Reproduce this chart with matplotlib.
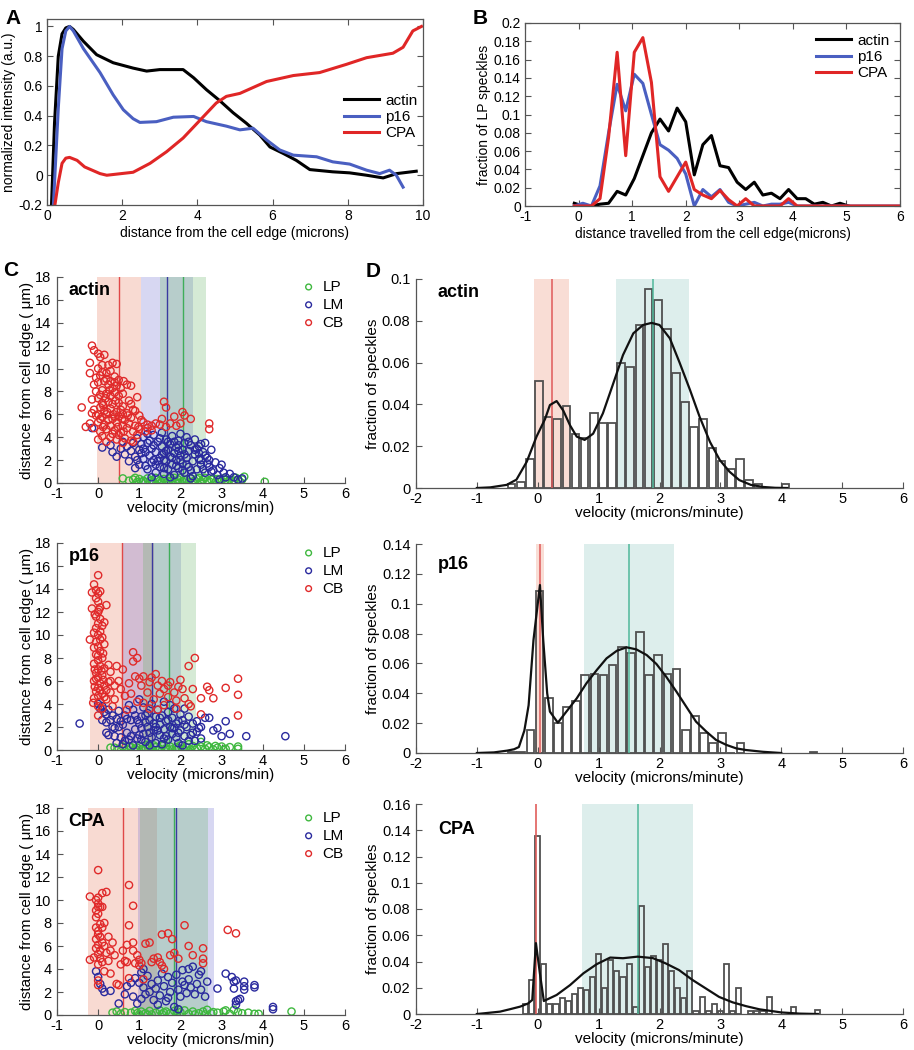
import numpy as np
import matplotlib
matplotlib.use("Agg")
import matplotlib.pyplot as plt
from matplotlib.ticker import FuncFormatter

plt.rcParams['font.family'] = ['Liberation Sans', 'DejaVu Sans']
plt.rcParams['font.size'] = 10

# ---------------- Panel A data ----------------
A_actin_x = [0.12, 0.2, 0.3, 0.4, 0.5, 0.6, 0.7, 0.97, 1.32, 1.76, 2.29, 2.65, 3.0, 3.62, 3.9, 4.24, 4.6, 4.95, 5.3, 5.66, 5.93, 6.28, 6.63, 6.99, 7.6, 8.05, 8.5, 8.94, 9.3, 9.82]
A_actin_y = [-0.2, 0.35, 0.8, 0.95, 0.99, 1.0, 0.98, 0.9, 0.81, 0.756, 0.72, 0.70, 0.71, 0.71, 0.655, 0.575, 0.50, 0.42, 0.35, 0.27, 0.19, 0.147, 0.10, 0.038, 0.023, 0.016, 0.0, -0.018, 0.011, 0.027]
A_p16_x = [0.17, 0.3, 0.4, 0.5, 0.6, 0.7, 0.97, 1.41, 1.76, 2.03, 2.29, 2.47, 2.91, 3.36, 3.9, 4.24, 4.77, 5.13, 5.48, 5.84, 6.19, 6.55, 7.17, 7.6, 8.05, 8.5, 8.85, 9.11, 9.29, 9.47]
A_p16_y = [-0.2, 0.45, 0.85, 0.97, 1.0, 0.97, 0.85, 0.69, 0.54, 0.44, 0.38, 0.355, 0.36, 0.39, 0.395, 0.36, 0.33, 0.305, 0.316, 0.237, 0.17, 0.135, 0.124, 0.09, 0.075, 0.034, 0.011, 0.034, 0.0, -0.08]
A_cpa_x = [0.21, 0.3, 0.4, 0.5, 0.6, 0.8, 1.0, 1.41, 1.59, 2.29, 2.74, 3.18, 3.62, 4.07, 4.5, 4.77, 5.13, 5.84, 6.55, 7.25, 7.96, 8.5, 9.2, 9.47, 9.73, 9.96]
A_cpa_y = [-0.2, -0.05, 0.08, 0.115, 0.12, 0.10, 0.056, 0.011, 0.0, 0.02, 0.08, 0.158, 0.25, 0.37, 0.485, 0.53, 0.55, 0.63, 0.67, 0.69, 0.745, 0.79, 0.82, 0.86, 0.97, 1.0]

# ---------------- Panel B data ----------------
B_x = [-0.08, 0.08, 0.24, 0.40, 0.56, 0.72, 0.88, 1.04, 1.20, 1.36, 1.52, 1.68, 1.84, 2.00, 2.16, 2.32, 2.48,
       2.64, 2.80, 2.96, 3.12, 3.28, 3.44, 3.60, 3.76, 3.92, 4.08, 4.24, 4.40, 4.56, 4.72, 4.88, 5.04, 5.20,
       5.36, 5.52, 5.68, 5.84, 6.00]
B_actin = [0.003, 0.0, 0.0, 0.002, 0.003, 0.016, 0.012, 0.03, 0.055, 0.08, 0.095, 0.082, 0.107, 0.092, 0.034,
           0.067, 0.077, 0.044, 0.042, 0.026, 0.018, 0.026, 0.012, 0.014, 0.008, 0.018, 0.008, 0.008, 0.002,
           0.004, 0.0, 0.003, 0.0]
B_p16 = [0.0, 0.003, 0.0, 0.022, 0.08, 0.133, 0.104, 0.144, 0.134, 0.1, 0.067, 0.061, 0.052, 0.035, 0.0, 0.018,
         0.01, 0.018, 0.004, 0.0, 0.002, 0.004, 0.0, 0.002, 0.002, 0.004, 0.0, 0.0, 0.0, 0.0, 0.0, 0.0, 0.0, 0.0,
         0.0, 0.0, 0.0, 0.0, 0.0]
B_cpa = [0.0, 0.0, 0.0, 0.008, 0.075, 0.168, 0.055, 0.168, 0.184, 0.135, 0.032, 0.016, 0.032, 0.048, 0.018, 0.012,
         0.008, 0.017, 0.007, 0.0, 0.008, 0.0, 0.0, 0.0, 0.0, 0.008, 0.0, 0.0, 0.0, 0.0, 0.0, 0.0, 0.0, 0.0, 0.0,
         0.0, 0.0, 0.0, 0.0]

# ---------------- Panel C data (velocity, distance) ----------------
actin_CB = [(-0.15,12.0),(-0.1,11.6),(0.0,11.3),(0.05,11.0),(0.15,11.2),(-0.2,10.5),(0.0,10.0),(0.1,10.3),(0.25,10.3),
    (0.35,10.5),(0.45,10.4),(-0.2,9.6),(-0.05,9.2),(0.05,9.4),(0.2,9.6),(0.3,9.8),(0.4,9.3),(0.5,9.0),(0.15,8.9),
    (-0.1,8.6),(0.0,8.8),(0.25,8.6),(0.35,8.3),(0.45,8.5),(0.55,8.3),(0.7,8.6),(0.8,8.5),(0.1,8.1),(-0.05,8.0),
    (0.2,7.8),(0.3,7.6),(0.4,7.9),(0.5,7.6),(0.6,7.8),(0.75,7.2),(0.95,7.5),(-0.15,7.3),(0.0,7.4),(0.1,7.0),
    (0.25,7.1),(0.35,6.9),(0.5,7.0),(0.6,6.7),(0.8,6.9),(-0.4,6.6),(-0.1,6.4),(0.05,6.6),(0.15,6.3),(0.3,6.5),
    (0.45,6.2),(0.55,6.4),(0.7,6.1),(0.9,6.3),(-0.05,5.9),(0.1,5.8),(0.2,6.0),(0.35,5.6),(0.5,5.8),(0.65,5.5),
    (0.8,5.7),(1.0,5.9),(-0.2,5.2),(0.0,5.3),(0.15,5.1),(0.3,5.0),(0.45,5.3),(0.6,5.0),(0.75,5.2),(0.9,5.0),
    (1.1,5.3),(1.2,5.1),(1.3,5.0),(1.4,5.2),(1.5,5.1),(-0.3,4.9),(-0.1,4.8),(0.05,4.5),(0.2,4.7),(0.4,4.6),
    (0.55,4.4),(0.7,4.8),(0.85,4.5),(1.0,4.7),(1.15,4.5),(1.3,4.6),(0.0,3.8),(0.1,4.1),(0.3,4.0),(0.5,4.2),
    (0.65,3.9),(0.8,3.7),(0.95,4.2),(0.6,3.5),(0.85,3.6),(1.6,7.1),(1.65,6.6),(1.55,5.6),(1.75,5.2),(1.85,5.8),
    (2.05,6.2),(2.1,5.9),(2.25,5.6),(2.0,5.2),(2.7,5.2),(2.7,4.7),(1.9,5.0),(1.65,4.9),
    (0.05,7.7),(0.18,7.4),(0.28,8.1),(0.42,7.2),(0.12,6.8),(0.22,6.2),(0.38,6.0),(0.6,6.0),(0.05,5.6),(0.25,5.5),
    (0.4,5.8),(0.58,5.6),(0.72,5.9),(0.12,4.9),(0.35,4.3),(0.48,4.9),(0.62,4.5),(0.2,9.1),(0.3,8.9),(0.4,8.8),
    (0.1,9.7),(0.62,8.9),(0.0,6.0),(-0.15,6.1),(0.85,6.4),(1.05,5.5),(1.2,4.8),(0.45,3.8),(0.2,3.6),(0.98,4.9)]
actin_LM = [(-0.15,4.8),(0.1,3.1),(0.3,3.3),(0.35,2.7),(0.45,2.3),(0.55,3.0),(0.6,3.6),(0.65,2.5),(0.7,3.2),(0.75,1.9),
    (0.8,2.8),(0.85,3.5),(0.9,2.3),(0.95,3.9),(1.0,2.9),(1.0,1.6),(1.05,3.4),(1.1,2.1),(1.1,4.0),(1.15,2.7),(1.2,1.2),
    (1.2,3.5),(1.25,2.4),(1.3,3.0),(1.3,1.8),(1.35,4.2),(1.4,2.7),(1.4,0.9),(1.45,3.6),(1.5,2.2),(1.5,1.4),(1.55,3.2),
    (1.55,4.4),(1.6,2.6),(1.6,0.8),(1.65,1.9),(1.65,3.8),(1.7,2.9),(1.7,1.2),(1.75,2.3),(1.75,3.4),(1.8,1.6),(1.8,4.1),
    (1.85,2.6),(1.85,0.7),(1.9,3.1),(1.9,2.0),(1.95,1.3),(1.95,3.7),(2.0,2.4),(2.0,4.3),(2.05,1.7),(2.05,2.9),(2.1,0.9),
    (2.1,3.5),(2.15,2.2),(2.15,4.0),(2.2,1.4),(2.2,2.8),(2.25,3.3),(2.3,1.9),(2.3,0.6),(2.35,2.5),(2.35,3.8),(2.4,1.2),
    (2.4,3.0),(2.45,2.1),(2.5,1.6),(2.5,3.4),(2.55,2.7),(2.6,0.9),(2.6,3.5),(2.65,2.2),(2.7,1.4),(2.7,2.0),(2.75,2.9),
    (2.8,1.1),(2.85,1.8),(2.9,0.7),(2.95,1.3),(3.0,1.6),(3.05,0.9),(3.1,0.5),(3.2,0.8),(3.3,0.5),(3.4,0.3),(3.5,0.4),
    (1.2,4.3),(0.9,1.3),(1.45,1.9),(1.75,0.5),(2.25,0.4),(1.3,0.5),(2.95,0.3),(1.05,2.6),(1.35,3.3),(1.6,2.0),
    (1.95,2.8),(2.15,1.6),(2.45,2.6),(1.85,3.6),(2.6,2.4),
    (1.1,3.0),(1.25,3.7),(1.4,1.6),(1.55,2.5),(1.7,3.6),(1.8,2.2),(1.9,1.5),(2.0,2.0),(2.1,2.5),(2.25,1.1),
    (2.35,2.9),(2.5,2.0),(2.65,1.7),(1.5,3.9),(1.65,2.8),(1.95,3.3),(2.2,3.6),(2.45,3.2),(0.95,2.0),(1.15,1.5),
    (1.35,2.0),(2.75,1.0),(2.55,1.2),(2.05,1.1),(1.6,1.3)]
actin_LP = [(0.6,0.4),(0.75,0.2),(0.85,0.3),(0.95,0.1),(1.0,0.35),(1.1,0.2),(1.15,0.05),(1.2,0.4),(1.3,0.25),(1.35,0.1),
    (1.4,0.45),(1.5,0.2),(1.55,0.05),(1.6,0.35),(1.7,0.15),(1.75,0.4),(1.8,0.25),(1.9,0.05),(1.95,0.3),(2.0,0.45),
    (2.05,0.15),(2.15,0.3),(2.2,0.05),(2.25,0.4),(2.35,0.2),(2.4,0.35),(2.5,0.1),(2.55,0.3),(2.6,0.45),(2.7,0.15),
    (2.75,0.3),(2.85,0.05),(2.9,0.35),(3.0,0.2),(3.05,0.4),(3.15,0.1),(3.2,0.3),(3.3,0.2),(3.35,0.45),(3.45,0.1),
    (3.5,0.3),(3.55,0.55),(4.05,0.1),(1.25,0.15),(1.45,0.3),(1.65,0.05),(1.85,0.45),(2.1,0.25),(2.3,0.1),(2.45,0.45),
    (2.65,0.2),(2.8,0.4),(2.95,0.1),(3.1,0.25),(3.25,0.05),(1.05,0.05),(0.9,0.45),(3.4,0.3)]

p16_CB = [(0.0,15.2),(-0.1,14.4),(-0.05,13.9),(0.0,13.6),(-0.15,13.7),(0.05,13.8),(-0.05,13.2),(0.0,12.9),(-0.15,12.3),
    (0.05,12.4),(0.0,12.0),(0.2,12.6),(-0.05,11.6),(0.05,11.4),(0.15,11.1),(0.0,11.0),(-0.05,10.6),(0.05,10.3),(0.0,10.0),
    (-0.2,9.6),(0.1,9.8),(0.15,9.2),(-0.05,9.4),(0.0,9.0),(0.05,8.6),(-0.05,8.3),(0.1,8.0),(0.0,7.8),(-0.1,7.5),(0.05,7.3),
    (0.15,7.1),(0.0,7.0),(-0.05,6.7),(0.1,6.5),(0.0,6.3),(-0.1,6.0),(0.05,5.8),(0.15,5.6),(0.0,5.4),(-0.05,5.1),(0.1,4.9),
    (0.0,4.7),(-0.1,4.5),(0.05,4.2),(0.0,3.8),(0.0,3.0),(0.25,7.4),(0.3,6.8),(0.25,5.9),(0.3,5.0),(0.2,4.4),
    (0.45,7.3),(0.6,7.0),(0.5,6.0),(0.55,5.3),(0.4,4.4),(0.65,4.7),(0.75,5.8),(0.85,8.5),(0.95,8.0),(0.85,7.7),(0.9,6.4),
    (1.0,6.2),(1.05,5.6),(0.8,4.9),(0.95,4.2),(1.1,6.4),(1.2,5.0),(1.25,5.9),(1.3,6.3),(1.35,4.4),(1.45,5.6),(1.4,6.6),
    (1.55,6.0),(1.5,4.9),(1.6,3.9),(1.7,5.6),(1.75,5.9),(1.7,4.6),(1.85,5.0),(1.9,4.3),(1.95,5.5),(2.0,6.1),(2.05,5.3),
    (2.1,4.5),(2.2,7.3),(2.2,4.0),(2.3,5.3),(2.35,8.0),(2.25,3.8),(2.5,4.5),(2.5,3.1),(2.65,5.5),(2.7,5.2),(2.8,4.5),
    (3.1,5.4),(3.4,6.2),(3.4,4.8),(3.4,3.0),(1.1,4.1),(0.7,3.5),(1.25,3.6),(1.6,5.3),(0.35,3.8),(1.45,3.5),(1.9,3.6),
    (0.02,12.2),(-0.08,11.8),(0.1,10.8),(-0.1,10.2),(0.05,9.6),(-0.1,8.9),(0.12,8.4),(0.0,8.2),(-0.08,7.0),(0.08,6.9),
    (-0.05,6.2),(0.12,6.1),(-0.08,5.5),(0.05,5.2),(0.15,4.6),(-0.12,4.1),(0.1,3.6),(0.2,5.2),(0.3,6.0),(0.4,5.6)]
p16_LM = [(-0.45,2.3),(0.0,4.0),(0.05,3.6),(0.1,3.8),(0.15,3.3),(0.2,3.1),(0.25,3.5),(0.3,2.6),(0.35,3.0),(0.2,1.5),
    (0.25,1.3),(0.4,1.9),(0.45,2.7),(0.5,3.4),(0.45,0.6),(0.55,1.1),(0.6,2.2),(0.65,3.0),(0.7,1.5),(0.75,0.9),(0.8,2.6),
    (0.85,3.5),(0.9,1.8),(0.95,1.0),(1.0,2.3),(1.0,4.4),(1.05,2.9),(1.1,1.4),(1.1,3.7),(1.15,0.7),(1.2,2.0),(1.2,3.2),
    (1.25,2.6),(1.3,1.1),(1.3,4.0),(1.35,1.7),(1.4,2.9),(1.4,0.6),(1.45,3.5),(1.5,2.2),(1.5,1.3),(1.55,3.0),(1.6,1.8),
    (1.6,4.2),(1.65,2.5),(1.7,0.9),(1.7,3.3),(1.75,2.0),(1.8,1.4),(1.8,2.8),(1.85,3.6),(1.9,1.1),(1.9,2.3),(1.95,0.6),
    (2.0,1.7),(2.0,3.1),(2.05,2.6),(2.1,1.2),(2.1,3.6),(2.15,2.0),(2.2,0.8),(2.2,2.9),(2.3,1.5),(2.3,2.3),(2.35,0.8),
    (2.4,2.5),(2.45,1.9),(2.5,1.0),(2.6,2.8),(2.7,2.8),(2.8,1.7),(2.9,1.9),(3.0,1.2),(3.1,2.5),(3.2,1.4),(3.6,1.2),
    (4.55,1.2),(0.1,2.6),(0.6,0.5),(0.9,3.0),(1.05,1.9),(1.25,0.4),(1.55,0.5),(1.75,3.9),(1.95,2.5),(2.05,0.4),(0.35,2.0),
    (0.75,3.9),(1.35,2.3),(1.65,1.2),(2.4,1.6),(0.55,2.5),(0.85,0.4),(1.15,3.0),(1.45,1.7),(1.85,1.9),
    (0.2,2.4),(0.4,1.2),(0.5,2.0),(0.7,2.7),(0.8,1.2),(0.95,2.6),(1.05,0.9),(1.15,2.4),(1.25,1.5),(1.4,2.0),
    (1.5,2.8),(1.6,1.0),(1.7,2.6),(1.8,1.9),(1.95,1.5),(2.1,2.2),(2.25,1.3),(2.5,2.0),(0.65,0.8),(1.0,1.3)]
p16_LP = [(0.3,0.2),(0.4,0.2),(0.5,0.1),(0.6,0.3),(0.7,0.05),(0.8,0.25),(0.9,0.1),(1.0,0.35),(1.05,0.05),(1.15,0.2),
    (1.25,0.3),(1.3,0.05),(1.4,0.25),(1.5,0.1),(1.55,0.4),(1.65,0.15),(1.75,0.3),(1.8,0.05),(1.9,0.25),(2.0,0.4),
    (2.05,0.1),(2.15,0.25),(2.25,0.05),(2.3,0.35),(2.4,0.15),(2.5,0.7),(2.5,0.3),(2.6,0.1),(2.7,0.25),(2.8,0.05),
    (2.9,0.2),(3.0,0.3),(3.1,0.1),(3.2,0.25),(3.4,0.3),(3.4,0.1),(1.2,0.45),(1.6,0.5),(1.95,0.15),(2.2,0.5),(0.95,0.2),
    (1.35,0.4),(1.7,0.0),(2.1,0.0),(2.65,0.4),(3.05,0.0),(0.75,0.35),(1.45,0.0),(2.35,0.0),(2.85,0.35)]

cpa_CB = [(0.0,12.6),(-0.2,10.3),(-0.05,10.0),(0.0,9.7),(0.0,9.4),(-0.05,9.1),(0.05,9.4),(0.0,8.8),(-0.05,8.5),(0.1,9.4),
    (0.1,10.6),(0.2,10.7),(0.0,10.2),(-0.05,7.6),(0.05,7.9),(0.0,7.3),(0.1,7.6),(0.15,8.0),(0.0,7.0),(-0.05,6.6),
    (0.05,6.8),(0.1,6.3),(0.0,6.1),(-0.05,5.8),(0.05,5.6),(0.15,6.0),(0.0,5.3),(-0.1,5.0),(0.05,4.9),(-0.2,4.8),
    (0.1,4.6),(0.0,4.4),(0.2,5.4),(0.25,6.8),(0.3,5.6),(0.35,6.3),(0.25,4.7),(0.3,3.6),(0.0,3.0),(0.0,2.6),(0.15,3.8),
    (0.4,5.2),(0.45,2.7),(0.5,2.6),(0.55,4.4),(0.6,5.6),(0.65,4.7),(0.7,4.6),(0.75,3.2),(0.75,7.8),(0.85,9.5),
    (0.75,11.3),(0.7,6.1),(0.85,6.3),(0.85,5.6),(0.95,5.2),(1.0,4.8),(1.0,4.3),(1.05,4.5),(1.1,3.1),(1.15,6.2),
    (1.25,6.3),(1.3,4.6),(1.45,5.0),(1.5,4.6),(1.55,4.3),(1.55,7.0),(1.7,7.1),(1.6,4.0),(1.75,5.2),(1.8,6.6),(1.85,5.4),
    (1.95,4.9),(2.1,7.8),(2.2,6.0),(2.3,5.2),(2.55,5.8),(2.55,4.9),(2.55,4.5),(3.15,7.4),(3.35,7.1),(1.35,4.9),(0.9,4.5)]
cpa_LM = [(-0.05,3.8),(0.0,3.3),(0.05,2.7),(0.1,2.3),(0.15,2.0),(0.3,2.1),(0.5,1.0),(0.65,1.8),(0.8,2.8),(0.85,1.6),
    (0.9,3.2),(1.0,2.8),(1.05,3.7),(1.05,1.4),(1.1,2.4),(1.15,1.8),(1.2,3.4),(1.25,2.0),(1.3,2.7),(1.35,1.3),(1.4,2.3),
    (1.45,3.0),(1.5,1.7),(1.55,3.6),(1.6,2.5),(1.65,1.2),(1.7,3.3),(1.75,2.0),(1.8,2.8),(1.85,0.7),(1.9,3.5),(1.95,2.2),
    (2.0,1.6),(2.05,3.9),(2.1,2.6),(2.15,1.9),(2.2,3.1),(2.25,2.4),(2.3,4.2),(2.35,1.8),(2.4,2.7),(2.45,3.5),(2.5,2.2),
    (2.6,1.6),(2.65,2.9),(2.9,2.3),(3.1,3.6),(3.25,3.3),(3.3,2.9),(3.3,2.3),(3.35,1.2),(3.4,1.3),(3.35,0.9),(3.45,1.4),
    (3.35,3.0),(3.55,2.9),(3.55,2.5),(3.55,2.2),(3.8,2.6),(3.8,2.4),(4.25,0.7),(4.25,0.5),(1.95,0.5),(0.95,1.0),
    (2.2,4.0),(1.1,4.0),(0.7,2.5),(2.5,3.8),(1.45,0.9),(2.05,2.9),(1.7,1.5)]
cpa_LP = [(0.35,0.2),(0.45,0.3),(0.55,0.1),(0.65,0.25),(0.8,0.2),(0.9,0.35),(1.0,0.05),(1.05,0.3),(1.15,0.15),(1.25,0.35),
    (1.3,0.05),(1.4,0.2),(1.5,0.4),(1.55,0.1),(1.65,0.3),(1.75,0.15),(1.85,0.35),(1.9,0.05),(2.0,0.25),(2.1,0.4),
    (2.2,0.1),(2.3,0.3),(2.45,0.15),(2.55,0.3),(2.6,0.05),(2.75,0.15),(2.9,0.2),(3.05,0.3),(3.1,0.4),(3.2,0.1),
    (3.3,0.45),(3.4,0.25),(3.5,0.15),(3.65,0.2),(3.8,0.1),(3.9,0.1),(4.7,0.3),(0.95,0.15),(1.6,0.2),(2.35,0.05),
    (2.8,0.25),(1.2,0.0),(1.95,0.45),(2.65,0.45)]

# band centre / half-width for C: (LP, LM, CB)
C_bands = {
    'actin': {'LP': (2.06, 0.56), 'LM': (1.67, 0.64), 'CB': (0.50, 0.53)},
    'p16':   {'LP': (1.73, 0.65), 'LM': (1.30, 0.72), 'CB': (0.58, 0.78)},
    'CPA':   {'LP': (1.85, 0.83), 'LM': (1.90, 0.92), 'CB': (0.60, 0.84)},
}

# ---------------- Panel D data ----------------
D_actin_bins = [-0.43, -0.28, -0.13, 0.02, 0.17, 0.32, 0.47, 0.62, 0.77, 0.92, 1.07, 1.22, 1.37, 1.52, 1.67, 1.82,
                1.97, 2.12, 2.27, 2.42, 2.57, 2.72, 2.87, 3.02, 3.17, 3.32, 3.47, 3.62, 3.77, 3.92, 4.07]
D_actin_frac = [0.002, 0.003, 0.014, 0.051, 0.034, 0.033, 0.039, 0.026, 0.024, 0.036, 0.031, 0.031, 0.060, 0.058,
                0.078, 0.095, 0.090, 0.076, 0.055, 0.041, 0.029, 0.033, 0.019, 0.013, 0.009, 0.014, 0.004, 0.002,
                0.0, 0.0, 0.002]
D_actin_fit_x = [-1.0, -0.78, -0.51, -0.35, -0.18, -0.02, 0.12, 0.2, 0.31, 0.42, 0.53, 0.64, 0.77, 0.91, 1.07, 1.24,
                 1.4, 1.57, 1.73, 1.87, 2.0, 2.17, 2.33, 2.5, 2.66, 2.83, 2.99, 3.15, 3.31, 3.5, 3.7, 3.9, 4.1]
D_actin_fit_y = [0.0, 0.0003, 0.0015, 0.004, 0.0126, 0.0246, 0.033, 0.0397, 0.0416, 0.037, 0.030, 0.0246, 0.023,
                 0.026, 0.0357, 0.050, 0.0636, 0.074, 0.078, 0.079, 0.078, 0.0716, 0.060, 0.047, 0.034, 0.022,
                 0.0134, 0.0078, 0.0038, 0.0015, 0.0005, 0.0001, 0.0]

D_p16_bins = [-0.42, -0.27, -0.12, 0.03, 0.18, 0.33, 0.48, 0.63, 0.78, 0.93, 1.08, 1.23, 1.38, 1.53, 1.68, 1.83,
              1.98, 2.13, 2.28, 2.43, 2.58, 2.73, 2.88, 3.03, 3.18, 3.33, 4.53]
D_p16_frac = [0.001, 0.001, 0.0154, 0.1087, 0.0366, 0.020, 0.031, 0.035, 0.052, 0.053, 0.052, 0.059, 0.071, 0.0667,
              0.0808, 0.052, 0.0656, 0.053, 0.056, 0.0154, 0.0248, 0.0136, 0.0065, 0.0136, 0.0, 0.007, 0.001]
D_p16_fit_x = [-1.0, -0.72, -0.5, -0.39, -0.31, -0.22, -0.15, -0.07, 0.036, 0.09, 0.155, 0.2, 0.33, 0.47, 0.64, 0.8,
               0.97, 1.13, 1.3, 1.46, 1.62, 1.79, 1.95, 2.11, 2.28, 2.44, 2.6, 2.77, 2.93, 3.1, 3.26, 3.42, 3.7, 4.0]
D_p16_fit_y = [0.0, 0.0004, 0.0016, 0.0025, 0.004, 0.015, 0.032, 0.0757, 0.1125, 0.0757, 0.04, 0.0277, 0.0203,
               0.0277, 0.0366, 0.0467, 0.0556, 0.0634, 0.0685, 0.0708, 0.0694, 0.0656, 0.0596, 0.0511, 0.041, 0.031,
               0.021, 0.0143, 0.0087, 0.0054, 0.0031, 0.002, 0.0008, 0.0]

D_cpa_bins = [-0.2, -0.1, 0.0, 0.1, 0.2, 0.3, 0.4, 0.5, 0.6, 0.7, 0.8, 0.9, 1.0, 1.1, 1.2, 1.3, 1.4, 1.5, 1.6, 1.7,
              1.8, 1.9, 2.0, 2.1, 2.2, 2.3, 2.4, 2.5, 2.6, 2.7, 2.8, 2.9, 3.0, 3.1, 3.2, 3.3, 3.5, 3.6, 3.7, 3.8,
              4.2, 4.6]
D_cpa_frac = [0.0076, 0.0256, 0.1355, 0.038, 0.0074, 0.0074, 0.0124, 0.010, 0.015, 0.020, 0.018, 0.028, 0.046,
              0.020, 0.041, 0.033, 0.028, 0.038, 0.005, 0.082, 0.036, 0.044, 0.041, 0.0535, 0.033, 0.020, 0.0124,
              0.033, 0.0025, 0.0127, 0.0025, 0.0076, 0.0025, 0.038, 0.0025, 0.020, 0.0025, 0.002, 0.002, 0.013,
              0.005, 0.003]
D_cpa_fit_x = [-1.0, -0.89, -0.62, -0.46, -0.29, -0.16, -0.09, -0.03, 0.035, 0.1, 0.31, 0.53, 0.75, 0.97, 1.19, 1.4,
               1.64, 1.89, 2.1, 2.32, 2.54, 2.76, 2.98, 3.2, 3.42, 3.64, 4.0, 4.3, 4.6]
D_cpa_fit_y = [0.0, 0.0005, 0.0018, 0.0036, 0.0056, 0.008, 0.0107, 0.054, 0.031, 0.0099, 0.0145, 0.022, 0.031, 0.038,
               0.043, 0.0425, 0.0437, 0.0426, 0.0386, 0.0335, 0.026, 0.0195, 0.013, 0.0089, 0.006, 0.0036, 0.0012,
               0.0003, 0.0]

# D bands: (centre, half-width) for CB (red) and moving (teal)
D_bands = {
    'actin': {'CB': (0.23, 0.285), 'mov': (1.89, 0.60)},
    'p16':   {'CB': (0.035, 0.07), 'mov': (1.495, 0.735)},
    'CPA':   {'CB': (-0.03, 0.015), 'mov': (1.64, 0.91)},
}

# ---------------- styling ----------------
W, H = 914, 1050
fig = plt.figure(figsize=(W / 100, H / 100), dpi=100)

def pos(l, r, t, b):
    return [l / W, 1 - b / H, (r - l) / W, (b - t) / H]

gfmt = FuncFormatter(lambda v, p: ('%g' % round(v, 6)))
SPINE = '#555555'

def matlab_box(ax, ls=10):
    for s in ax.spines.values():
        s.set_color(SPINE)
        s.set_linewidth(0.9)
    ax.tick_params(direction='in', length=4, width=0.8, color=SPINE, top=True, right=True,
                   labelsize=ls, pad=3)
    ax.xaxis.set_major_formatter(gfmt)
    ax.yaxis.set_major_formatter(gfmt)

def matlab_open(ax, ls=10.5):
    for k in ('top', 'right'):
        ax.spines[k].set_visible(False)
    for k in ('left', 'bottom'):
        ax.spines[k].set_color(SPINE)
        ax.spines[k].set_linewidth(0.9)
    ax.tick_params(direction='in', length=4, width=0.8, color=SPINE, labelsize=ls)
    ax.tick_params(axis='x', pad=3)
    ax.tick_params(axis='y', pad=4)
    ax.xaxis.set_major_formatter(gfmt)
    ax.yaxis.set_major_formatter(gfmt)

BLACK, BLUE, RED = '#000000', '#4a5fc1', '#e02626'

# ---------------- Panel A ----------------
axA = fig.add_axes(pos(47, 423, 19, 205))
axA.plot(A_actin_x, A_actin_y, color=BLACK, lw=2.2, label='actin')
axA.plot(A_p16_x, A_p16_y, color=BLUE, lw=2.2, label='p16')
axA.plot(A_cpa_x, A_cpa_y, color=RED, lw=2.2, label='CPA')
axA.set_xlim(0, 10)
axA.set_ylim(-0.2, 1.05)
axA.set_xticks(np.arange(0, 11, 2))
axA.set_yticks(np.arange(-0.2, 1.01, 0.2))
matlab_box(axA)
axA.set_xlabel('distance from the cell edge (microns)', fontsize=10, labelpad=2)
axA.set_ylabel('normalized intensity (a.u.)', fontsize=10, labelpad=2)
axA.legend(loc='upper left', bbox_to_anchor=(0.77, 0.64), frameon=False, fontsize=11,
           handlelength=2.3, handletextpad=0.4, labelspacing=0.15, borderpad=0)
fig.text(5 / W, 1 - 18 / H, 'A', fontsize=15, fontweight='bold', va='center', ha='left')

# ---------------- Panel B ----------------
axB = fig.add_axes(pos(525, 900, 23, 206))
axB.plot(B_x[:len(B_actin)], B_actin, color=BLACK, lw=2.2, label='actin')
axB.plot(B_x, B_p16, color=BLUE, lw=2.2, label='p16')
axB.plot(B_x, B_cpa, color=RED, lw=2.2, label='CPA')
axB.set_xlim(-1, 6)
axB.set_ylim(0, 0.2)
axB.set_xticks(np.arange(-1, 7, 1))
axB.set_yticks(np.arange(0, 0.201, 0.02))
matlab_box(axB)
axB.set_xlabel('distance travelled from the cell edge(microns)', fontsize=9.8, labelpad=2)
axB.set_ylabel('fraction of LP speckles', fontsize=10, labelpad=2)
axB.legend(loc='upper right', bbox_to_anchor=(1.0, 1.0), frameon=False, fontsize=11,
           handlelength=2.3, handletextpad=0.4, labelspacing=0.15, borderpad=0.2)
fig.text(473 / W, 1 - 18 / H, 'B', fontsize=15, fontweight='bold', va='center', ha='left')

# ---------------- Panel C ----------------
GREEN_M, BLUE_M, RED_M = '#3fb83f', '#2a2a9e', '#e02a2a'
band_col = {'LP': ('#64b464', '#3fae5a'), 'LM': ('#6e6ed2', '#3a3aa0'), 'CB': ('#e8785a', '#e04848')}
C_sets = [('actin', actin_LP, actin_LM, actin_CB, (57, 345, 277, 483)),
          ('p16', p16_LP, p16_LM, p16_CB, (57, 345, 543, 750)),
          ('CPA', cpa_LP, cpa_LM, cpa_CB, (57, 345, 808, 1015))]
for name, lp, lm, cb, (l, r, t, b) in C_sets:
    ax = fig.add_axes(pos(l, r, t, b))
    for key in ('CB', 'LM', 'LP'):
        c, hw = C_bands[name][key]
        ax.axvspan(c - hw, c + hw, ymin=0, ymax=1, color=band_col[key][0], alpha=0.27, lw=0, zorder=0)
    for key in ('CB', 'LM', 'LP'):
        c, hw = C_bands[name][key]
        ax.axvline(c, color=band_col[key][1], lw=1.0, zorder=1)
    for pts, col, lab in ((lp, GREEN_M, 'LP'), (lm, BLUE_M, 'LM'), (cb, RED_M, 'CB')):
        arr = np.array(pts)
        ax.scatter(arr[:, 0], arr[:, 1], s=27, facecolors='none', edgecolors=col, linewidths=1.0,
                   label=lab, zorder=3)
    ax.set_xlim(-1, 6)
    ax.set_ylim(0, 18)
    ax.set_xticks(np.arange(-1, 7, 1))
    ax.set_yticks(np.arange(0, 19, 2))
    matlab_open(ax)
    ax.set_xlabel('velocity (microns/min)', fontsize=11, labelpad=0)
    ax.set_ylabel('distance from cell edge ( μm)', fontsize=11, labelpad=1)
    ax.text(0.04, 0.935, name, transform=ax.transAxes, fontsize=13, fontweight='bold', va='center')
    ax.legend(loc='upper left', bbox_to_anchor=(0.81, 1.03), frameon=False, fontsize=11,
              handletextpad=0.3, labelspacing=0.25, borderpad=0.1, scatterpoints=1, handlelength=1.2,
              markerscale=0.8)
fig.text(3 / W, 1 - 270 / H, 'C', fontsize=15, fontweight='bold', va='center', ha='left')

# ---------------- Panel D ----------------
D_sets = [('actin', D_actin_bins, D_actin_frac, D_actin_fit_x, D_actin_fit_y, 0.10, (416, 903, 279, 488), 0.15),
          ('p16', D_p16_bins, D_p16_frac, D_p16_fit_x, D_p16_fit_y, 0.14, (416, 903, 544, 753), 0.15),
          ('CPA', D_cpa_bins, D_cpa_frac, D_cpa_fit_x, D_cpa_fit_y, 0.16, (416, 903, 804, 1014), 0.10)]
for name, bins, frac, fx, fy, ytop, (l, r, t, b), bw in D_sets:
    ax = fig.add_axes(pos(l, r, t, b))
    c, hw = D_bands[name]['CB']
    ax.axvspan(c - hw, c + hw, color='#e8785a', alpha=0.25, lw=0, zorder=0)
    ax.axvline(c, color='#e05a5a', lw=1.1, zorder=4)
    c2, hw2 = D_bands[name]['mov']
    ax.axvspan(c2 - hw2, c2 + hw2, color='#86c4bc', alpha=0.28, lw=0, zorder=0)
    ax.axvline(c2, color='#4fb89a', lw=1.1, zorder=4)
    ax.bar(bins, frac, width=bw * 0.84, facecolor='none', edgecolor='#505050', linewidth=1.3, zorder=2)
    ax.plot(fx, fy, color='#111111', lw=1.6, zorder=5)
    ax.set_xlim(-2, 6)
    ax.set_ylim(0, ytop)
    ax.set_xticks(np.arange(-2, 7, 1))
    ax.set_yticks(np.arange(0, ytop + 1e-9, 0.02))
    matlab_open(ax)
    ax.set_xlabel('velocity (microns/minute)', fontsize=11, labelpad=0)
    ax.set_ylabel('fraction of speckles', fontsize=11, labelpad=1)
    ytxt = {'actin': 0.935, 'p16': 0.90, 'CPA': 0.88}[name]
    ax.text(0.045, ytxt, name, transform=ax.transAxes, fontsize=13, fontweight='bold', va='center')
fig.text(366 / W, 1 - 272 / H, 'D', fontsize=15, fontweight='bold', va='center', ha='left')

fig.savefig('out.png', dpi=100)
